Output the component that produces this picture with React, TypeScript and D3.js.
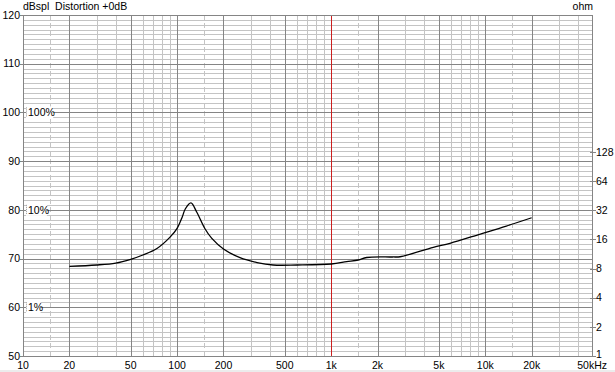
import React from "react";
import * as d3 from "d3";

const freqs = [20, 30, 40, 50, 60, 74, 90, 100, 108, 113, 123, 134, 152, 168, 200, 256, 330, 420, 600, 1000, 1260, 1500, 1700, 2500, 2800, 4600, 5900, 9300, 13700, 20000];
const impedance = [8.41, 8.71, 9.13, 9.98, 11.05, 12.9, 16.9, 20.8, 27.3, 33.0, 38.1, 30.7, 20.5, 16.4, 12.75, 10.36, 9.24, 8.71, 8.71, 8.92, 9.42, 9.81, 10.41, 10.54, 10.6, 13.27, 14.6, 18.2, 22.0, 26.8];

const dbTicks = [50, 60, 70, 80, 90, 100, 110, 120];
const ohmTicks = [1, 2, 4, 8, 16, 32, 64, 128];
const freqTickValues = [10, 20, 50, 100, 200, 500, 1000, 2000, 5000, 10000, 20000, 50000];
const freqTickLabels = ["10", "20", "50", "100", "200", "500", "1k", "2k", "5k", "10k", "20k", "50kHz"];
const pctLabels = ["100%", "10%", "1%"];
const pctDb = [100, 80, 60];

const W = 615, H = 372;
const L = 23, R = 593, T = 15, B = 356;
const FONT = "'Liberation Sans', Arial, sans-serif";

export default function App() {
  const x = d3.scaleLog().domain([10, 50000]).range([L, R]);
  const y = d3.scaleLinear().domain([50, 120]).range([B, T]);
  const yO = d3.scaleLog().base(2).domain([1, 128]).range([B, 152]);

  const vLines: { f: number; kind: string }[] = [];
  [10, 100, 1000, 10000].forEach((dec) => {
    [1, 1.5, 2, 3, 4, 5, 6, 7, 8, 9].forEach((m) => {
      const f = dec * m;
      if (f <= 10 || f >= 50000) return;
      let kind = "light";
      if (m === 1.5) kind = "dash";
      else if (m === 1 || m === 2 || m === 5) kind = f === 1000 ? "red" : "dark";
      vLines.push({ f, kind });
    });
  });
  const hLines = d3.range(51, 120);

  const line = d3
    .line<number>()
    .x((_, i) => x(freqs[i]))
    .y((d) => yO(d))
    .curve(d3.curveCatmullRom.alpha(0.5));

  const light = "#c4c4c4";
  const dark = "#858585";
  const px = (v: number) => Math.round(v) + 0.5;

  return (
    <svg width={W} height={H} style={{ position: "absolute", left: 0, top: 0, background: "#fff" }} fontFamily={FONT} fontSize={10.5}>
      <rect x={0} y={0} width={W} height={H} fill="#fff" />
      <rect x={0} y={370} width={W} height={2} fill="#ececec" />
      {hLines.map((v) => (
        <line key={"h" + v} x1={L} x2={R} y1={px(y(v))} y2={px(y(v))} stroke={v % 10 === 0 ? dark : light} strokeWidth={1} />
      ))}
      {vLines.filter((d) => d.kind === "light" || d.kind === "dash").map((d) => (
        <line key={"v" + d.f} x1={px(x(d.f))} x2={px(x(d.f))} y1={T} y2={B} stroke={light} strokeDasharray={d.kind === "dash" ? "5,3" : undefined} />
      ))}
      {hLines.filter((v) => v % 10 === 0).map((v) => (
        <line key={"hd" + v} x1={L} x2={R} y1={px(y(v))} y2={px(y(v))} stroke={dark} />
      ))}
      {vLines.filter((d) => d.kind === "dark").map((d) => (
        <line key={"vd" + d.f} x1={px(x(d.f))} x2={px(x(d.f))} y1={T} y2={B} stroke={dark} />
      ))}
      {vLines.filter((d) => d.kind === "red").map((d) => (
        <line key={"vr" + d.f} x1={px(x(d.f))} x2={px(x(d.f))} y1={T} y2={B} stroke="#cc2020" />
      ))}
      <rect x={L + 0.5} y={T + 0.5} width={R - L - 1} height={B - T} fill="none" stroke={dark} />

      <path d={line(impedance) || ""} fill="none" stroke="#000" strokeWidth={1.3} />

      {pctLabels.map((t, i) => (
        <g key={t}>
          <rect x={L + 3} y={y(pctDb[i]) - 6} width={t.length * 6.3 + 2} height={12} fill="#fff" />
          <line x1={L + 3.5} x2={L + 3.5} y1={y(pctDb[i]) - 5} y2={y(pctDb[i]) + 5} stroke="#999" strokeDasharray="1,1" />
          <text x={L + 5} y={y(pctDb[i])} dy="0.35em" fill="#000">{t}</text>
        </g>
      ))}

      {dbTicks.map((v) => (
        <g key={"l" + v}>
          <line x1={L - 3} x2={L} y1={px(y(v))} y2={px(y(v))} stroke={dark} />
          <text x={L - 3} y={y(v)} dy="0.35em" textAnchor="end" fill="#000">{v}</text>
        </g>
      ))}

      {ohmTicks.map((v) => (
        <g key={"r" + v}>
          <line x1={R - 3} x2={R + 3} y1={px(yO(v))} y2={px(yO(v))} stroke={dark} />
          <text x={R + 3} y={yO(v) - (v === 1 ? 2 : 0)} dy="0.35em" textAnchor="start" fill="#000">{v}</text>
        </g>
      ))}

      {freqTickValues.map((f, i) => {
        const last = i === freqTickValues.length - 1;
        return (
          <text key={"b" + f} x={last ? x(f) + 14 : x(f)} y={369} textAnchor={last ? "end" : "middle"} fill="#000">{freqTickLabels[i]}</text>
        );
      })}

      <text x={L} y={10} fill="#000" style={{ whiteSpace: "pre" }}>{"dBspl\u00A0\u00A0Distortion +0dB"}</text>
      <text x={R} y={10} textAnchor="end" fill="#000">ohm</text>
    </svg>
  );
}
